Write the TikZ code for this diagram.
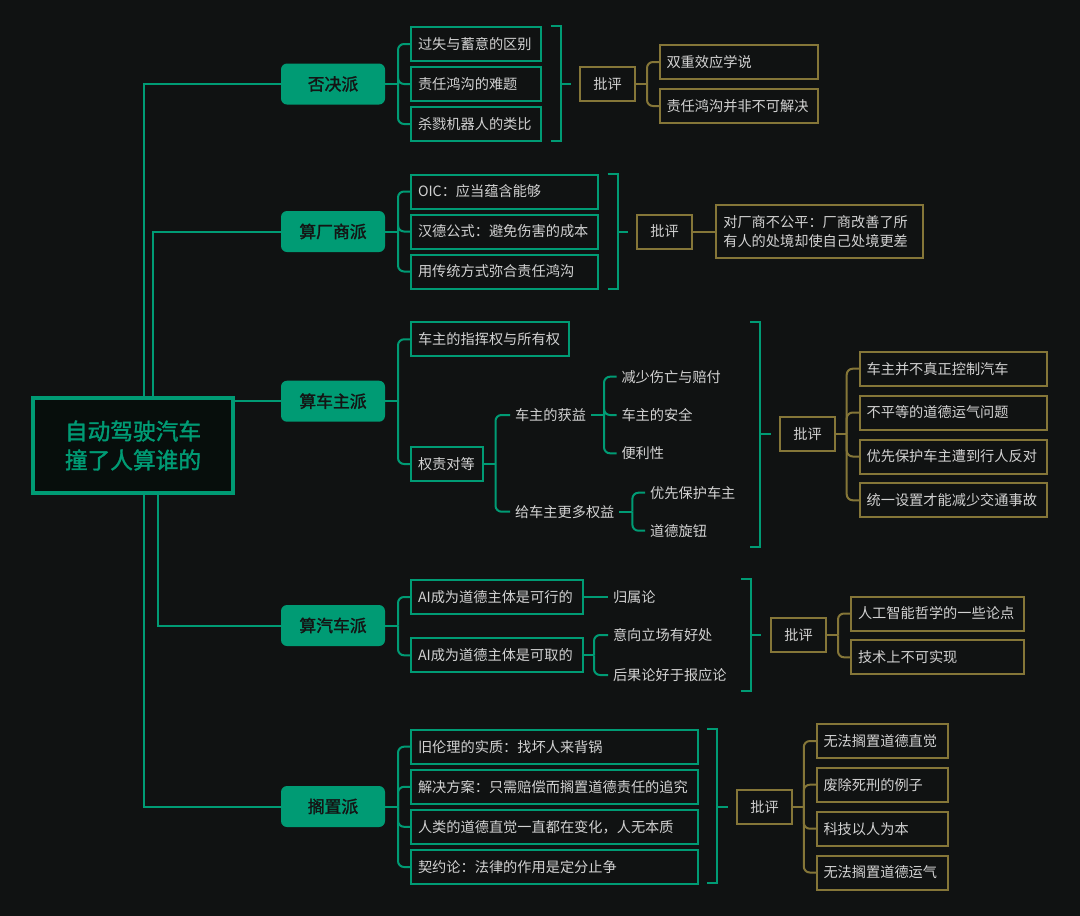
\documentclass[tikz,border=0pt]{standalone}
\usepackage{fontspec}
\setmainfont{Noto Sans CJK SC}
\newfontfamily\cjkb{Noto Sans CJK SC}[FakeBold=1.6]
\definecolor{bg}{HTML}{101212}
\definecolor{grn}{HTML}{009B74}
\definecolor{olv}{HTML}{857638}
\definecolor{txt}{HTML}{D2D2D2}
\definecolor{dk}{HTML}{141414}
\definecolor{rootfill}{HTML}{070E0C}
\begin{document}
\begin{tikzpicture}[x=1pt,y=-1pt,
  every node/.style={inner sep=0pt, outer sep=0pt},
  root/.style={draw=grn, line width=3.5pt, fill=rootfill, minimum width=200pt, minimum height=95pt, text=grn, font=\cjkb\fontsize{22.7}{29}\selectfont, align=center},
  lone/.style={fill=grn, rounded corners=6pt, minimum width=104pt, minimum height=41pt, text=dk, font=\cjkb\fontsize{16.8}{20}\selectfont},
  gbox/.style={draw=grn, line width=2pt, anchor=west, minimum height=34pt, inner xsep=7pt, text width=#1, align=left, text=txt, font=\fontsize{14.2}{19}\selectfont},
  obox/.style={draw=olv, line width=2pt, anchor=west, minimum height=34pt, inner xsep=7pt, text width=#1, align=left, text=txt, font=\fontsize{14.2}{19}\selectfont},
  pbox/.style={draw=olv, line width=2pt, minimum width=55pt, minimum height=34pt, text=txt, font=\fontsize{14.2}{19}\selectfont},
  tnode/.style={anchor=west, inner xsep=5pt, inner ysep=3pt, text=txt, font=\fontsize{14.2}{19}\selectfont},
  gl/.style={draw=grn, line width=2pt},
  ol/.style={draw=olv, line width=2pt},
  rc/.style={rounded corners=6pt}
]
\fill[bg] (0,0) rectangle (1080,916);
\useasboundingbox (0,0) rectangle (1080,916);

% root and level 1
\node[root] (root) at (133,445.5) {自动驾驶汽车\\撞了人算谁的};
\node[lone] (n1) at (333,84) {否决派};
\node[lone] (n2) at (333,231.5) {算厂商派};
\node[lone] (n3) at (333,401.2) {算车主派};
\node[lone] (n4) at (333,625.5) {算汽车派};
\node[lone] (n5) at (333,806.5) {搁置派};

% level 2 green boxes
\node[gbox=116pt] (a11) at (411,44) {过失与蓄意的区别};
\node[gbox=116pt] (a12) at (411,84) {责任鸿沟的难题};
\node[gbox=116pt] (a13) at (411,124) {杀戮机器人的类比};

\node[gbox=173pt] (a21) at (411,191.5) {OIC：应当蕴含能够};
\node[gbox=173pt] (a22) at (411,231.5) {汉德公式：避免伤害的成本};
\node[gbox=173pt] (a23) at (411,271.5) {用传统方式弥合责任鸿沟};

\node[gbox=144pt] (a31) at (411,339.3) {车主的指挥权与所有权};
\node[gbox=58pt] (a32) at (411,464) {权责对等};

\node[gbox=157.5pt] (a41) at (411,597) {AI成为道德主体是可行的};
\node[gbox=157.5pt] (a42) at (411,655.3) {AI成为道德主体是可取的};

\node[gbox=273pt] (a51) at (411,746.7) {旧伦理的实质：找坏人来背锅};
\node[gbox=273pt] (a52) at (411,786.8) {解决方案：只需赔偿而搁置道德责任的追究};
\node[gbox=273pt] (a53) at (411,826.8) {人类的道德直觉一直都在变化，人无本质};
\node[gbox=273pt] (a54) at (411,867) {契约论：法律的作用是定分止争};

% text-only nodes
\node[tnode] (t1) at (510,415) {车主的获益};
\node[tnode] (t2) at (510,511.7) {给车主更多权益};
\node[tnode] (t11) at (616.5,376.7) {减少伤亡与赔付};
\node[tnode] (t12) at (616.5,415) {车主的安全};
\node[tnode] (t13) at (616.5,453.3) {便利性};
\node[tnode] (t21) at (645.2,492.7) {优先保护车主};
\node[tnode] (t22) at (645.2,530.7) {道德旋钮};
\node[tnode] (s1) at (608,597) {归属论};
\node[tnode] (s2) at (608,635) {意向立场有好处};
\node[tnode] (s3) at (608,675) {后果论好于报应论};

% critique boxes
\node[pbox] (p1) at (607.5,84) {批评};
\node[pbox] (p2) at (664.5,231.5) {批评};
\node[pbox] (p3) at (807.5,434.4) {批评};
\node[pbox] (p4) at (798.5,635.3) {批评};
\node[pbox] (p5) at (764.5,807) {批评};

\node[obox=144.5pt] (c11) at (659.5,62) {双重效应学说};
\node[obox=144.5pt] (c12) at (659.5,106) {责任鸿沟并非不可解决};
\node[obox=192.3pt, minimum height=53.6pt] (c21) at (716.3,231.5) {对厂商不公平：厂商改善了所\\有人的处境却使自己处境更差};
\node[obox=173.6pt] (c31) at (859.6,368.7) {车主并不真正控制汽车};
\node[obox=173.6pt] (c32) at (859.6,412.5) {不平等的道德运气问题};
\node[obox=173.6pt] (c33) at (859.6,456.5) {优先保护车主遭到行人反对};
\node[obox=173.6pt] (c34) at (859.6,500.3) {统一设置才能减少交通事故};
\node[obox=159.2pt] (c41) at (851,613.5) {人工智能哲学的一些论点};
\node[obox=159.2pt] (c42) at (851,657.3) {技术上不可实现};
\node[obox=117pt] (c51) at (816.5,741) {无法搁置道德直觉};
\node[obox=117pt] (c52) at (816.5,784.7) {废除死刑的例子};
\node[obox=117pt] (c53) at (816.5,828.7) {科技以人为本};
\node[obox=117pt] (c54) at (816.5,872.5) {无法搁置道德运气};

% root connectors
\draw[gl] ([xshift=11pt]root.north) |- (n1.west);
\draw[gl] ([xshift=20pt]root.north) |- (n2.west);
\draw[gl] (n3.west -| root.east) -- (n3.west);
\draw[gl] ([xshift=25pt]root.south) |- (n4.west);
\draw[gl] ([xshift=11pt]root.south) |- (n5.west);

% level1 -> level2
\coordinate (j1) at ([xshift=13pt]n1.east);
\coordinate (j2) at ([xshift=13pt]n2.east);
\coordinate (j3) at ([xshift=13pt]n3.east);
\coordinate (j4) at ([xshift=13pt]n4.east);
\coordinate (j5) at ([xshift=13pt]n5.east);
\draw[gl] (n1.east) -- (j1);
\draw[gl] (n2.east) -- (j2);
\draw[gl] (n3.east) -- (j3);
\draw[gl] (n4.east) -- (j4);
\draw[gl] (n5.east) -- (j5);
\foreach \c in {a11,a12,a13} \draw[gl,rc] (j1) |- (\c.west);
\foreach \c in {a21,a22,a23} \draw[gl,rc] (j2) |- (\c.west);
\foreach \c in {a31,a32} \draw[gl,rc] (j3) |- (\c.west);
\foreach \c in {a41,a42} \draw[gl,rc] (j4) |- (\c.west);
\foreach \c in {a51,a52,a53,a54} \draw[gl,rc] (j5) |- (\c.west);

% deeper green branches
\coordinate (j32) at ([xshift=12.5pt]a32.east);
\draw[gl] (a32.east) -- (j32);
\foreach \c in {t1,t2} \draw[gl,rc] (j32) |- (\c.west);
\coordinate (jt1) at ([xshift=13pt]t1.east);
\draw[gl] (t1.east) -- (jt1);
\foreach \c in {t11,t12,t13} \draw[gl,rc] (jt1) |- (\c.west);
\coordinate (jt2) at ([xshift=13pt]t2.east);
\draw[gl] (t2.east) -- (jt2);
\foreach \c in {t21,t22} \draw[gl,rc] (jt2) |- (\c.west);
\draw[gl] (a41.east) -- (s1.west);
\coordinate (j42) at ([xshift=11.5pt]a42.east);
\draw[gl] (a42.east) -- (j42);
\foreach \c in {s2,s3} \draw[gl,rc] (j42) |- (\c.west);

% green summary brackets
\coordinate (b1t) at (560.5,26);  \coordinate (b1b) at (560.5,141);
\coordinate (b2t) at (617.5,173.5); \coordinate (b2b) at (617.5,288.7);
\coordinate (b3t) at (760.4,321.7); \coordinate (b3b) at (760.4,546.7);
\coordinate (b4t) at (751,579.3); \coordinate (b4b) at (751,690.7);
\coordinate (b5t) at (717.3,729); \coordinate (b5b) at (717.3,883.3);
\foreach \b/\p in {b1/p1,b2/p2,b3/p3,b4/p4,b5/p5}{
  \draw[gl] ([xshift=-10pt]\b t) -- (\b t) -- (\b b) -- ([xshift=-10pt]\b b);
  \draw[gl] (\b t |- \p) -- ++(10.3,0);
}

% olive branches
\coordinate (k1) at ([xshift=12pt]p1.east);
\draw[ol] (p1.east) -- (k1);
\foreach \c in {c11,c12} \draw[ol,rc] (k1) |- (\c.west);
\draw[ol] (p2.east) -- (c21.west);
\coordinate (k3) at ([xshift=11.7pt]p3.east);
\draw[ol] (p3.east) -- (k3);
\foreach \c in {c31,c32,c33,c34} \draw[ol,rc] (k3) |- (\c.west);
\coordinate (k4) at ([xshift=12pt]p4.east);
\draw[ol] (p4.east) -- (k4);
\foreach \c in {c41,c42} \draw[ol,rc] (k4) |- (\c.west);
\coordinate (k5) at ([xshift=11.8pt]p5.east);
\draw[ol] (p5.east) -- (k5);
\foreach \c in {c51,c52,c53,c54} \draw[ol,rc] (k5) |- (\c.west);
\end{tikzpicture}
\end{document}
